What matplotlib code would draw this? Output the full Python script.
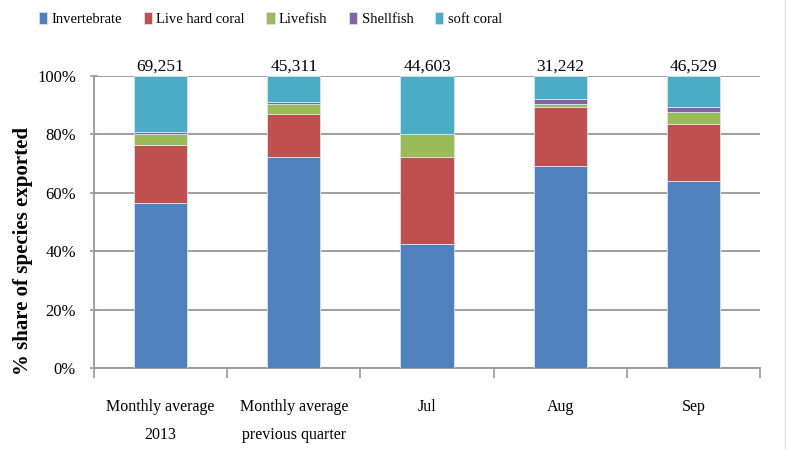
import matplotlib
matplotlib.use('Agg')
from matplotlib import pyplot as plt
from matplotlib.lines import Line2D
import numpy as np

plt.rcParams['font.family'] = ['Liberation Serif', 'DejaVu Serif']

# categories and shares (% of species exported)
categories = ['Monthly average\n2013', 'Monthly average\nprevious quarter', 'Jul', 'Aug', 'Sep']
totals = ['69,251', '45,311', '44,603', '31,242', '46,529']
series = ['Invertebrate', 'Live hard coral', 'Livefish', 'Shellfish', 'soft coral']
invertebrate = [56.5, 72.4, 42.5, 69.0, 64.0]
live_hard_coral = [20.0, 14.7, 29.9, 20.2, 19.6]
livefish = [3.6, 3.4, 7.6, 1.3, 4.2]
shellfish = [0.6, 0.7, 0.1, 1.5, 1.5]
soft_coral = [19.3, 8.8, 19.9, 8.0, 10.7]
colors = ['#4F81BD', '#C0504D', '#9BBB59', '#8064A2', '#4BACC6']

fig = plt.figure(figsize=(7.86, 4.49), dpi=100)
ax = fig.add_axes([0.1196, 0.180, 0.8475, 0.651])

x = np.arange(len(categories))
bottom = np.zeros(len(categories))
for name, vals, c in zip(series, [invertebrate, live_hard_coral, livefish, shellfish, soft_coral], colors):
    ax.bar(x, vals, 0.4, bottom=bottom, color=c, edgecolor='#d8e4f0', linewidth=0.6, label=name, zorder=3)
    bottom += np.array(vals)

# totals above bars
for xi, t in zip(x, totals):
    ax.text(xi, 100.3, t, ha='center', va='bottom', fontsize=12.5)

ax.set_xlim(-0.5, len(categories) - 0.5)
ax.set_ylim(0, 100)
ax.set_yticks(np.arange(0, 101, 20))
ax.set_yticklabels(['%d%%' % v for v in range(0, 101, 20)], fontsize=12)
ax.yaxis.grid(True, color='#999999', linewidth=1.3, zorder=0)
ax.set_xticks(x)
ax.set_xticklabels(categories, fontsize=11.5, linespacing=2.0)
ax.set_xticks(np.arange(-0.5, len(categories)), minor=True)
ax.tick_params(axis='x', which='major', length=0, pad=22)
ax.tick_params(axis='x', which='minor', length=7, color='#999999', width=1.2, direction='out')
ax.tick_params(axis='y', length=6, color='#999999', width=1.2, direction='inout', pad=10)
for s in ['top', 'right']:
    ax.spines[s].set_visible(False)
for s in ['left', 'bottom']:
    ax.spines[s].set_color('#999999')
    ax.spines[s].set_linewidth(1.3)

ax.set_ylabel('% share of species exported', fontsize=15, fontweight='bold')
ax.yaxis.set_label_coords(-0.092, 0.40)

handles, labels = ax.get_legend_handles_labels()
fig.legend(handles, labels, loc='center', bbox_to_anchor=(0.344, 0.957), ncol=5, frameon=False,
           fontsize=10.5, handlelength=0.55, handleheight=0.9, handletextpad=0.3, columnspacing=1.5)

fig.add_artist(Line2D([0.9985, 0.9985], [0, 1], color='#e0e0e0', linewidth=1))

fig.savefig('out.png', dpi=100)
